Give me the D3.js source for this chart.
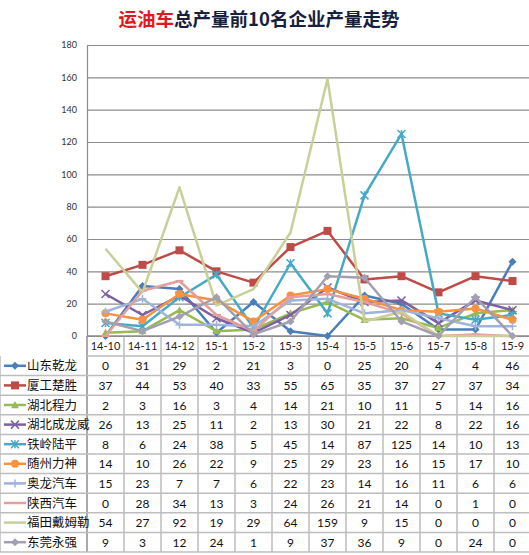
<!DOCTYPE html>
<html>
<head>
<meta charset="utf-8">
<script src="https://d3js.org/d3.v7.min.js"></script>
<style>
  body { margin: 0; background: #fff; }
  svg { display: block; }
</style>
</head>
<body>
<div id="chart"></div>
<script>
  // months on the x axis
  const months = ["14-10", "14-11", "14-12", "15-1", "15-2", "15-3", "15-4", "15-5", "15-6", "15-7", "15-8", "15-9"];
  const companies = ["山东乾龙", "厦工楚胜", "湖北程力", "湖北成龙威", "铁岭陆平", "随州力神", "奥龙汽车", "陕西汽车", "福田戴姆勒", "东莞永强"];

  const shandongQianlong = [0, 31, 29, 2, 21, 3, 0, 25, 20, 4, 4, 46];
  const xiagongChusheng = [37, 44, 53, 40, 33, 55, 65, 35, 37, 27, 37, 34];
  const hubeiChengli = [2, 3, 16, 3, 4, 14, 21, 10, 11, 5, 14, 16];
  const hubeiChenglongwei = [26, 13, 25, 11, 2, 13, 30, 21, 22, 8, 22, 16];
  const tielingLuping = [8, 6, 24, 38, 5, 45, 14, 87, 125, 14, 10, 13];
  const suizhouLishen = [14, 10, 26, 22, 9, 25, 29, 23, 16, 15, 17, 10];
  const aolongQiche = [15, 23, 7, 7, 6, 22, 23, 14, 16, 11, 6, 6];
  const shaanxiQiche = [0, 28, 34, 13, 3, 24, 26, 21, 14, 0, 1, 0];
  const futianDaimler = [54, 27, 92, 19, 29, 64, 159, 9, 15, 0, 0, 0];
  const dongguanYongqiang = [9, 3, 12, 24, 1, 9, 37, 36, 9, 0, 24, 0];

  const yTicks = [0, 20, 40, 60, 80, 100, 120, 140, 160, 180];

  const seriesValues = [shandongQianlong, xiagongChusheng, hubeiChengli, hubeiChenglongwei, tielingLuping,
    suizhouLishen, aolongQiche, shaanxiQiche, futianDaimler, dongguanYongqiang];
  const colors = ["#4a7ebb", "#be4b48", "#98b954", "#7d60a0", "#46aac5", "#f69240",
    "#9fb3dd", "#e49e9c", "#c9cf98", "#a29fb0"];
  const markers = ["diamond", "square", "triangle", "x", "star", "circle", "plus", "dash", "none", "diamond"];

  const series = companies.map((name, i) => ({ name, values: seriesValues[i], color: colors[i], marker: markers[i] }));

  const width = 529, height = 555;
  const left = 87, colW = 37;
  const plotTop = 45, plotBottom = 336;
  const rowH = 19.6, headerBottom = 356;

  const svg = d3.select("#chart").append("svg")
    .attr("width", width)
    .attr("height", height)
    .style("font-family", "Lato, 'Noto Sans', sans-serif");

  const x = d3.scaleBand().domain(months).range([left, left + colW * months.length]);
  const y = d3.scaleLinear().domain([0, 180]).range([plotBottom, plotTop]);

  // title
  const title = svg.append("text")
    .attr("x", 259)
    .attr("y", 26)
    .attr("text-anchor", "middle")
    .style("font-family", "'Noto Sans CJK SC', sans-serif")
    .style("font-size", "18.5px")
    .style("font-weight", "bold");
  title.append("tspan").attr("fill", "#e3171d").text("运油车");
  title.append("tspan").attr("fill", "#16213f").text("总产量前10名企业产量走势");

  // gridlines
  svg.append("g")
    .attr("transform", `translate(${left},0)`)
    .call(d3.axisLeft(y).tickValues(yTicks).tickSize(-(width - left)).tickFormat(""))
    .call(g => g.select(".domain").remove())
    .call(g => g.selectAll("line").attr("stroke", "#8c8c8c").attr("stroke-width", 1.2));

  // y axis labels
  svg.append("g")
    .attr("transform", `translate(${left},0)`)
    .call(d3.axisLeft(y).tickValues(yTicks).tickSize(0).tickPadding(10))
    .call(g => g.select(".domain").attr("stroke", "#8c8c8c").attr("stroke-width", 1.2))
    .call(g => g.selectAll("text").attr("fill", "#333").style("font-size", "9px").style("font-family", "Lato, sans-serif"));

  // table grid
  const tableBottom = headerBottom + rowH * companies.length;
  const grid = svg.append("g").attr("stroke", "#bdbdbd").attr("stroke-width", 1.5);
  months.forEach((m, i) => {
    grid.append("line")
      .attr("x1", x(m)).attr("x2", x(m))
      .attr("y1", plotBottom).attr("y2", tableBottom)
      .attr("stroke", i === 0 ? "#8c8c8c" : "#bdbdbd");
  });
  grid.append("line").attr("x1", left + colW * months.length).attr("x2", left + colW * months.length)
    .attr("y1", plotBottom).attr("y2", tableBottom);
  d3.range(companies.length + 1).forEach(i => {
    grid.append("line")
      .attr("x1", i === 0 ? left : 0).attr("x2", width)
      .attr("y1", headerBottom + i * rowH).attr("y2", headerBottom + i * rowH);
  });
  grid.append("line").attr("x1", 0).attr("x2", 0).attr("y1", headerBottom).attr("y2", tableBottom);
  grid.append("line").attr("x1", left).attr("x2", width).attr("y1", plotBottom).attr("y2", plotBottom)
    .attr("stroke", "#8c8c8c");

  // header labels
  svg.append("g").selectAll("text")
    .data(months)
    .join("text")
    .attr("x", d => x(d) + x.bandwidth() / 2)
    .attr("y", (plotBottom + headerBottom) / 2 + 4)
    .attr("text-anchor", "middle")
    .attr("fill", "#222")
    .style("font-size", "11px")
    .text(d => d);

  // marker shapes
  function drawMarker(g, type, color) {
    const s = 4;
    if (type === "diamond") {
      g.append("path").attr("d", `M0,${-s}L${s},0L0,${s}L${-s},0Z`).attr("fill", color);
    } else if (type === "square") {
      g.append("rect").attr("x", -s).attr("y", -s).attr("width", 2 * s).attr("height", 2 * s).attr("fill", color);
    } else if (type === "triangle") {
      g.append("path").attr("d", `M0,${-s}L${s},${s * 0.8}L${-s},${s * 0.8}Z`).attr("fill", color);
    } else if (type === "circle") {
      g.append("circle").attr("r", s).attr("fill", color);
    } else if (type === "x") {
      g.append("path").attr("d", `M${-s},${-s}L${s},${s}M${-s},${s}L${s},${-s}`).attr("stroke", color).attr("stroke-width", 1.5);
    } else if (type === "star") {
      g.append("path").attr("d", `M${-s},${-s}L${s},${s}M${-s},${s}L${s},${-s}M0,${-s}L0,${s}`).attr("stroke", color).attr("stroke-width", 1.5);
    } else if (type === "plus") {
      g.append("path").attr("d", `M${-s},0L${s},0M0,${-s}L0,${s}`).attr("stroke", color).attr("stroke-width", 1.5);
    } else if (type === "dash") {
      g.append("path").attr("d", `M${-s},0L${s},0`).attr("stroke", color).attr("stroke-width", 2);
    }
  }

  // lines
  const line = d3.line()
    .x((d, i) => x(months[i]) + x.bandwidth() / 2)
    .y(d => y(d));

  const plot = svg.append("g");
  series.forEach(s => {
    plot.append("path")
      .datum(s.values)
      .attr("fill", "none")
      .attr("stroke", s.color)
      .attr("stroke-width", 2.5)
      .attr("stroke-linejoin", "round")
      .attr("d", line);
    s.values.forEach((v, i) => {
      const mg = plot.append("g")
        .attr("transform", `translate(${x(months[i]) + x.bandwidth() / 2},${y(v)})`);
      drawMarker(mg, s.marker, s.color);
    });
  });

  // table rows
  const rows = svg.append("g").selectAll("g")
    .data(series)
    .join("g")
    .attr("transform", (d, i) => `translate(0,${headerBottom + i * rowH + rowH / 2})`);

  rows.each(function (s) {
    const g = d3.select(this);
    g.append("line")
      .attr("x1", 4).attr("x2", 26).attr("y1", 0).attr("y2", 0)
      .attr("stroke", s.color).attr("stroke-width", 2.5);
    drawMarker(g.append("g").attr("transform", "translate(15,0)"), s.marker, s.color);
    g.append("text")
      .attr("x", 27)
      .attr("y", 4.5)
      .attr("fill", "#111")
      .style("font-family", "'Noto Sans CJK SC', sans-serif")
      .style("font-size", "12.5px")
      .text(s.name);
    g.selectAll("text.v")
      .data(s.values)
      .join("text")
      .attr("class", "v")
      .attr("x", (d, i) => x(months[i]) + x.bandwidth() / 2)
      .attr("y", 4.5)
      .attr("text-anchor", "middle")
      .attr("fill", "#111")
      .style("font-size", "12px")
      .text(d => d);
  });
</script>
</body>
</html>
